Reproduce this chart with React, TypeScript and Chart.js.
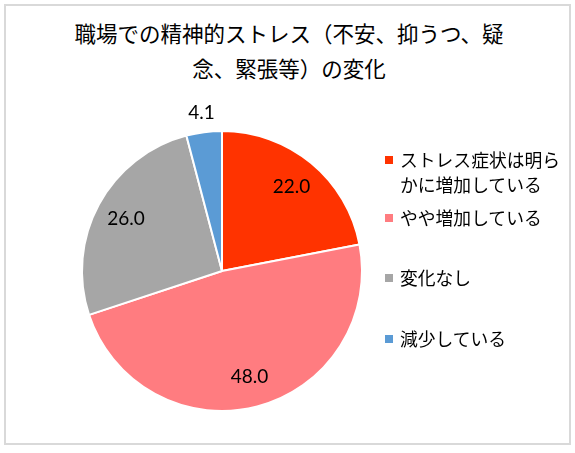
import { useEffect, useRef } from "react";
import { Chart, registerables } from "chart.js";
import type { Plugin } from "chart.js";

Chart.register(...registerables);

const titleLines = ["職場での精神的ストレス（不安、抑うつ、疑", "念、緊張等）の変化"];
const categories = [
  "ストレス症状は明らかに増加している",
  "やや増加している",
  "変化なし",
  "減少している",
];
const values = [22.0, 48.0, 26.0, 4.1];
const colors = ["#FF3300", "#FF7C80", "#A6A6A6", "#5B9BD5"];

const css = `
  body { margin: 0; }
  .stress-chart {
    position: relative;
    width: 575px;
    height: 453px;
    background: #fff;
    overflow: hidden;
  }
  .stress-chart .frame {
    position: absolute;
    left: 4px;
    top: 4px;
    width: 567px;
    height: 441px;
    box-sizing: border-box;
    border: 2px solid #d9d9d9;
  }
  .stress-chart .title {
    position: absolute;
    left: 0;
    top: 15px;
    width: 578px;
    text-align: center;
    font-family: "Noto Sans CJK JP", sans-serif;
    font-size: 21.5px;
    line-height: 35px;
    color: #000;
  }
  .stress-chart .legend {
    position: absolute;
    left: 385px;
    top: 147px;
    font-family: "Noto Sans CJK JP", sans-serif;
    font-size: 17.8px;
    line-height: 25px;
    color: #000;
  }
  .stress-chart .legend-item {
    display: flex;
    align-items: flex-start;
  }
  .stress-chart .legend-item:nth-child(2) { margin-top: 8px; }
  .stress-chart .legend-item:nth-child(3) { margin-top: 35px; }
  .stress-chart .legend-item:nth-child(4) { margin-top: 36px; }
  .stress-chart .legend-box {
    width: 8px;
    height: 8px;
    margin-top: 9px;
    margin-right: 7px;
    flex-shrink: 0;
  }
  .stress-chart .legend-text {
    max-width: 170px;
  }
  .stress-chart .canvas-wrap {
    position: absolute;
    left: 0;
    top: 0;
    width: 575px;
    height: 453px;
  }
`;

const valueLabels: Plugin<"pie"> = {
  id: "valueLabels",
  afterDatasetsDraw(chart) {
    const c = chart.ctx;
    const meta = chart.getDatasetMeta(0);
    c.save();
    c.font = "19px Lato, 'Open Sans', sans-serif";
    c.fillStyle = "#000";
    c.textAlign = "center";
    c.textBaseline = "middle";
    meta.data.forEach((el, i) => {
      const arc = el as any;
      const { x, y, startAngle, endAngle, outerRadius } = arc.getProps(
        ["x", "y", "startAngle", "endAngle", "outerRadius"],
        true,
      );
      const mid = (startAngle + endAngle) / 2;
      const v = values[i];
      const r = v < 10 ? outerRadius + 19 : outerRadius * 0.78;
      c.fillText(v.toFixed(1), x + Math.cos(mid) * r, y + Math.sin(mid) * r);
    });
    c.restore();
  },
};

export default function App() {
  const ref = useRef<HTMLCanvasElement>(null);

  useEffect(() => {
    const canvas = ref.current;
    if (!canvas) return;
    const chart = new Chart(canvas, {
      type: "pie",
      data: {
        labels: categories,
        datasets: [
          {
            data: values,
            backgroundColor: colors,
            borderColor: "#ffffff",
            borderWidth: 2,
          },
        ],
      },
      options: {
        responsive: true,
        maintainAspectRatio: false,
        animation: false,
        layout: { padding: { left: 81, right: 212, top: 130, bottom: 41 } },
        plugins: {
          legend: { display: false },
          tooltip: { enabled: false },
          title: { display: false },
        },
      },
      plugins: [valueLabels],
    });
    return () => chart.destroy();
  }, []);

  return (
    <div className="stress-chart">
      <style>{css}</style>
      <div className="frame" />
      <div className="title">
        {titleLines.map((t) => (
          <div key={t}>{t}</div>
        ))}
      </div>
      <div className="canvas-wrap">
        <canvas ref={ref} />
      </div>
      <div className="legend">
        {categories.map((label, i) => (
          <div className="legend-item" key={label}>
            <div className="legend-box" style={{ background: colors[i] }} />
            <div className="legend-text">{label}</div>
          </div>
        ))}
      </div>
    </div>
  );
}
